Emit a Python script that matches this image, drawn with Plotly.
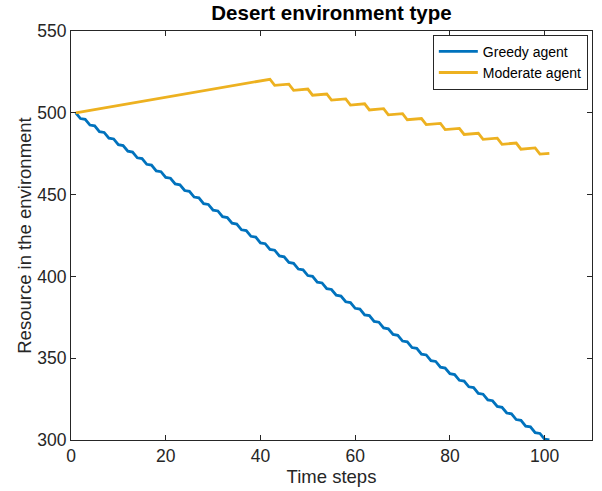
import plotly.graph_objects as go

time_steps = list(range(1, 102))

greedy = [500, 496.5, 496, 492.5, 492, 488.5, 488, 484.5, 484, 480.5, 480,
          476.5, 476, 472.5, 472, 468.5, 468, 464.5, 464, 460.5, 460,
          456.5, 456, 452.5, 452, 448.5, 448, 444.5, 444, 440.5, 440,
          436.5, 436, 432.5, 432, 428.5, 428, 424.5, 424, 420.5, 420,
          416.5, 416, 412.5, 412, 408.5, 408, 404.5, 404, 400.5, 400,
          396.5, 396, 392.5, 392, 388.5, 388, 384.5, 384, 380.5, 380,
          376.5, 376, 372.5, 372, 368.5, 368, 364.5, 364, 360.5, 360,
          356.5, 356, 352.5, 352, 348.5, 348, 344.5, 344, 340.5, 340,
          336.5, 336, 332.5, 332, 328.5, 328, 324.5, 324, 320.5, 320,
          316.5, 316, 312.5, 312, 308.5, 308, 304.5, 304, 300.5, 300]

moderate = [500, 500.5, 501, 501.5, 502, 502.5, 503, 503.5, 504, 504.5,
            505, 505.5, 506, 506.5, 507, 507.5, 508, 508.5, 509, 509.5,
            510, 510.5, 511, 511.5, 512, 512.5, 513, 513.5, 514, 514.5,
            515, 515.5, 516, 516.5, 517, 517.5, 518, 518.5, 519, 519.5,
            520, 520.5,
            516.75, 517, 517.25, 517.5,
            513.75, 514, 514.25, 514.5,
            510.75, 511, 511.25, 511.5,
            507.75, 508, 508.25, 508.5,
            504.75, 505, 505.25, 505.5,
            501.75, 502, 502.25, 502.5,
            498.75, 499, 499.25, 499.5,
            495.75, 496, 496.25, 496.5,
            492.75, 493, 493.25, 493.5,
            489.75, 490, 490.25, 490.5,
            486.75, 487, 487.25, 487.5,
            483.75, 484, 484.25, 484.5,
            480.75, 481, 481.25, 481.5,
            477.75, 478, 478.25, 478.5,
            474.75, 475, 475.25]

x_ticks = [0, 20, 40, 60, 80, 100]
y_ticks = [300, 350, 400, 450, 500, 550]

FONT = "Liberation Sans, Arial, Helvetica, sans-serif"
AX = "#262626"

fig = go.Figure()
fig.add_trace(go.Scatter(x=time_steps, y=greedy, mode="lines", name="Greedy agent",
                         line=dict(color="#0072BD", width=2.8)))
fig.add_trace(go.Scatter(x=time_steps, y=moderate, mode="lines", name="Moderate agent",
                         line=dict(color="#EDB120", width=2.8)))

axis_common = dict(showline=True, linecolor=AX, linewidth=1, mirror="ticks",
                   ticks="inside", ticklen=5, tickcolor=AX, showgrid=False,
                   zeroline=False, automargin=False,
                   tickfont=dict(family=FONT, size=17.5, color=AX))

fig.update_layout(
    width=602, height=491,
    margin=dict(l=71, r=10, t=31, b=51),
    paper_bgcolor="white", plot_bgcolor="white",
    title=dict(text="<b>Desert environment type</b>", x=(71 + 592) / 2 / 602, xanchor="center",
               y=1 - 13 / 491, yanchor="middle",
               font=dict(family=FONT, size=20.5, color="black")),
    xaxis=dict(range=[0, 110], tickvals=x_ticks,
               title=dict(text="Time steps", font=dict(family=FONT, size=18.5, color=AX), standoff=4),
               **axis_common),
    yaxis=dict(range=[300, 550], tickvals=y_ticks,
               title=dict(text="Resource in the environment", font=dict(family=FONT, size=18.5, color=AX), standoff=0),
               **axis_common),
    legend=dict(x=0.992, y=0.991, xanchor="right", yanchor="top",
                bordercolor=AX, borderwidth=1, bgcolor="white",
                font=dict(family=FONT, size=14, color="black"),
                tracegroupgap=0, itemwidth=39),
    showlegend=True,
)

fig.write_html("out.html", config={"displayModeBar": False},
               post_script="document.body.style.margin='0';")
